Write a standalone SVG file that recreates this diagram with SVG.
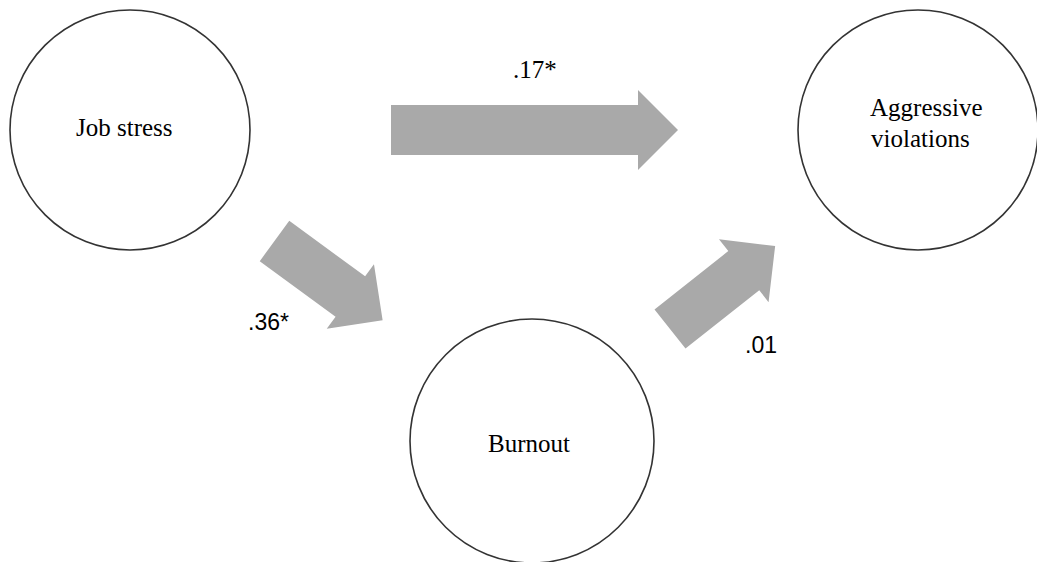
<svg xmlns="http://www.w3.org/2000/svg" width="1037" height="562" viewBox="0 0 1037 562">
<style>
.node{fill:#ffffff;stroke:#333333;stroke-width:1.6}
.lbl{font-family:"Liberation Serif","Times New Roman",serif;font-size:25px;fill:#000000}
.sans{font-family:"Liberation Sans",Arial,sans-serif;font-size:23px;fill:#000000}
.arr{fill:#a9a9a9;stroke:none}
</style>
<rect x="0" y="0" width="1037" height="562" fill="#ffffff"/>
<g id="connectors">
<path class="arr" transform="translate(391,130)" d="M0,-25 H247 V-40 L287,0 L247,40 V25 H0 Z"/>
<path class="arr" transform="translate(274.5,241) rotate(36.2)" d="M0,-25 H94 V-40 L134,0 L94,40 V25 H0 Z"/>
<path class="arr" transform="translate(670,329) rotate(-38.3)" d="M0,-25 H94 V-40 L134,0 L94,40 V25 H0 Z"/>
<text class="lbl" x="513" y="78" font-family="Liberation Serif, serif">.17*</text>
<text class="sans" x="248" y="330">.36*</text>
<text class="sans" x="745" y="353">.01</text>
</g>
<g id="job-stress">
<circle class="node" cx="130" cy="130" r="120"/>
<text class="lbl" x="76" y="136" font-family="Liberation Serif, serif">Job stress</text>
</g>
<g id="aggressive-violations">
<circle class="node" cx="918" cy="130" r="120"/>
<text class="lbl" x="870" y="116" font-family="Liberation Serif, serif">Aggressive</text>
<text class="lbl" x="871" y="147" font-family="Liberation Serif, serif">violations</text>
</g>
<g id="burnout">
<circle class="node" cx="532" cy="441" r="122"/>
<text class="lbl" x="488" y="452" font-family="Liberation Serif, serif">Burnout</text>
</g>
</svg>
